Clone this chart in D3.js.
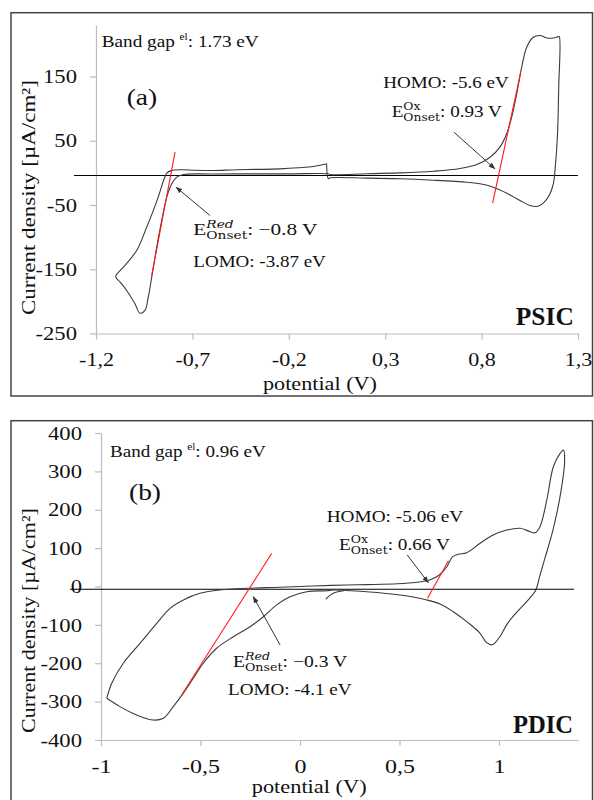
<!DOCTYPE html>
<html><head><meta charset="utf-8">
<script src="https://cdn.jsdelivr.net/npm/d3@7"></script>
<style>body{margin:0;background:#fff}svg{display:block}</style>
</head><body><svg id="c" width="594" height="800"></svg>
<script>
// ---------- DATA ----------
const psicV = [-0.004,-0.073,-0.15,-0.246,-0.33,-0.418,-0.5,-0.592,-0.68,-0.76,-0.81,-0.832,-0.845,-0.88,-0.937,-0.989,-1.058,-1.098,-1.075,-1.041,-0.998,-0.972,-0.946,-0.929,-0.911,-0.885,-0.859,-0.833,-0.807,-0.781,-0.747,-0.6,-0.4,-0.2,0.005,0.014,0.204,0.377,0.55,0.688,0.775,0.844,0.895,0.93,0.956,0.982,1.008,1.034,1.068,1.103,1.138,1.172,1.198,1.203,1.2,1.193,1.182,1.172,1.151,1.12,1.086,1.051,0.999,0.93,0.861,0.792,0.723,0.55,0.377,0.204,0.014,0.005,-0.004];
const psicI = [14.1,10,8,6.3,5.5,5.3,4.5,3.7,4,4.8,3.5,0,-8,-40,-84.5,-120.8,-146.8,-161.3,-170,-183,-203.8,-218.4,-214,-193.5,-162.4,-115.7,-74,-37.8,-17,-6.7,-2.5,-1.8,-1.5,-1.5,-1.4,-2.5,-1.4,0,2.6,6.8,13,24.4,40,60.8,86.7,123,164.5,195.6,211,213.8,210,210,212,212,133,55.5,8.8,-17,-35,-47,-52.3,-50.8,-43,-31.6,-22.3,-17,-14.5,-11.4,-9.2,-8.2,-7.7,-9,14.1];
const pdicV = [-0.971,-0.946,-0.888,-0.804,-0.72,-0.653,-0.586,-0.503,-0.402,-0.268,-0.1,0.0,0.067,0.235,0.338,0.49,0.586,0.652,0.7,0.738,0.766,0.795,0.838,0.905,0.971,1.039,1.106,1.156,1.181,1.206,1.24,1.273,1.307,1.324,1.33,1.312,1.271,1.233,1.204,1.185,1.147,1.1,1.043,1.004,0.966,0.935,0.905,0.838,0.77,0.704,0.637,0.503,0.335,0.167,0.134,0.034,-0.05,-0.117,-0.184,-0.251,-0.335,-0.419,-0.486,-0.536,-0.586,-0.637,-0.687,-0.737,-0.821,-0.905,-0.971];
const pdicI = [-291.4,-252,-200,-148,-96,-57,-35,-17.7,-9,-4.7,-2.1,0,1.3,4,5,7.2,11.1,17,30,51.6,77,84,88,112.6,134,147,151.7,142.8,140,156,225,312,347,355.7,330,250,147,77.6,25.5,-9,-35,-61,-96,-131,-152,-145,-122,-91.7,-65.7,-45.6,-35,-22,-13.5,-9,-11,-13.5,-26.6,-48,-78.7,-104.7,-131,-161,-200,-239,-278,-313,-343.5,-348,-334.8,-313,-291.4];
const pdicHookV = [0.13,0.145,0.165,0.19,0.22];
const pdicHookI = [-33,-25,-18,-13.5,-11];

const psicTangV = [[-0.911,-0.79],[0.857,1.003]];
const psicTangI = [[-159.7,32.2],[-47,156.7]];
const pdicTangV = [[-0.595,-0.142],[0.641,0.746]];
const pdicTangI = [[-282.8,86.5],[-30.8,67]];
const psicArrowV = [[-0.609,-0.785],[0.657,0.869]];
const psicArrowI = [[-66.3,-22.3],[63.3,6.3]];
const pdicArrowV = [[-0.1,-0.235],[0.539,0.645]];
const pdicArrowI = [[-152.5,-26.6],[82,10]];
const psicBase = -4.1, pdicBase = -7.3;

const psicXTicks = [-1.2,-0.7,-0.2,0.3,0.8,1.3];
const psicXLabels = ["-1,2","-0,7","-0,2","0,3","0,8","1,3"];
const psicYTicks = [-250,-150,-50,50,150];
const psicYLabels = ["-250","-150","-50","50","150"];
const pdicXTicks = [-1,-0.5,0,0.5,1];
const pdicXLabels = ["-1","-0,5","0","0,5","1"];
const pdicYTicks = [-400,-300,-200,-100,0,100,200,300,400];
const pdicYLabels = ["-400","-300","-200","-100","0","100","200","300","400"];

const psicText = {gap:"1.73", panel:"(a)", homo:"HOMO: -5.6 eV", ox:"0.93 V", red:"\u22120.8 V", lomo:"LOMO: -3.87 eV", name:"PSIC"};
const pdicText = {gap:"0.96", panel:"(b)", homo:"HOMO: -5.06 eV", ox:"0.66 V", red:"\u22120.3 V", lomo:"LOMO: -4.1 eV", name:"PDIC"};

// ---------- DRAW ----------
const svg = d3.select('#c');
const SERIF = "'Liberation Serif','Times New Roman',serif";
const MATH = "'DejaVu Serif','Liberation Serif',serif";
const CURVE = '#3a3a3a', AXIS = '#bdbdbd';

svg.append('defs').append('marker').attr('id','ah').attr('viewBox','0 0 10 10')
  .attr('refX',9).attr('refY',5).attr('markerWidth',7).attr('markerHeight',7)
  .attr('orient','auto-start-reverse').attr('markerUnits','userSpaceOnUse')
  .append('path').attr('d','M0,1.5 L10,5 L0,8.5 z').attr('fill','#333');

function fit(g, x, y, width, build, opts={}) {
  const t = g.append('text').attr('font-family', SERIF).attr('font-size', opts.size||17)
    .attr('fill', '#111').attr('font-weight', opts.bold?'bold':null);
  build(t);
  const w = t.node().getBBox().width;
  const s = width / w;
  if (opts.rotate) t.attr('transform', `translate(${x},${y}) rotate(-90) scale(${s},1)`);
  else t.attr('transform', `translate(${x},${y}) scale(${s},1)`);
  return t;
}
function plain(str){ return t => t.text(str); }
function gapText(val){ return t => {
  t.append('tspan').text('Band gap ');
  t.append('tspan').attr('font-size',10).attr('dy',-7).text('el');
  t.append('tspan').attr('dy',7).text(': ' + val + ' eV');
};}
function eText(sup, italic, val){ return t => {
  const e = t.append('tspan').text('E');
  const eW = e.node().getComputedTextLength();
  const sp = t.append('tspan').attr('x',eW).attr('dy',-7).attr('font-size',11).attr('font-family',MATH)
    .attr('font-style', italic?'italic':null).text(sup);
  const supW = sp.node().getComputedTextLength();
  const sb = t.append('tspan').attr('x',eW).attr('dy',11).attr('font-size',11).attr('font-family',MATH).text('Onset');
  const subW = sb.node().getComputedTextLength();
  t.append('tspan').attr('x', eW + Math.max(supW, subW)).attr('dy',-4).text(': ' + val);
};}

function panel(cfg) {
  const g = svg.append('g');
  g.append('rect').attr('x',cfg.frame[0]).attr('y',cfg.frame[1]).attr('width',cfg.frame[2]).attr('height',cfg.frame[3])
    .attr('fill','none').attr('stroke','#444').attr('stroke-width',1.5);
  const x = d3.scaleLinear().domain(cfg.xd).range(cfg.xr);
  const y = d3.scaleLinear().domain(cfg.yd).range(cfg.yr);

  const ax = g.append('g').attr('transform',`translate(0,${cfg.yr[0]})`)
    .call(d3.axisBottom(x).tickValues(cfg.xt).tickFormat((d,i)=>cfg.xl[i]).tickSize(6).tickSizeOuter(0));
  const ay = g.append('g').attr('transform',`translate(${cfg.xr[0]},0)`)
    .call(d3.axisLeft(y).tickValues(cfg.yt).tickFormat((d,i)=>cfg.yl[i]).tickSize(6).tickSizeOuter(0));
  [ax,ay].forEach(a => { a.selectAll('path,line').attr('stroke',AXIS).attr('stroke-width',1.2);
    a.selectAll('text').attr('font-family',SERIF).attr('font-size',18).attr('fill','#111'); });
  const xs = cfg.xRefW / ax.selectAll('text').nodes()[0].getComputedTextLength();
  const ys = cfg.yRefW / ay.selectAll('text').nodes()[cfg.yRefIdx].getComputedTextLength();
  ax.selectAll('text').attr('y',0).attr('dy',null).attr('transform',`translate(0,32.7) scale(${xs},1)`);
  ay.selectAll('text').attr('x',-19/ys).attr('dy','0.34em').attr('transform',`scale(${ys},1)`);

  g.append('line').attr('x1',x(cfg.baseX[0])).attr('x2',x(cfg.baseX[1]))
    .attr('y1',y(cfg.base)).attr('y2',y(cfg.base)).attr('stroke','#000').attr('stroke-width',1.1);

  const line = d3.line().x(d=>x(d[0])).y(d=>y(d[1])).curve(d3.curveCatmullRom.alpha(0.5));
  g.append('path').attr('d', line(d3.zip(cfg.V, cfg.I))).attr('fill','none').attr('stroke',CURVE).attr('stroke-width',1.1);
  if (cfg.hookV) g.append('path').attr('d', line(d3.zip(cfg.hookV, cfg.hookI))).attr('fill','none').attr('stroke',CURVE).attr('stroke-width',1.1);

  cfg.tV.forEach((tv,i)=> g.append('line').attr('x1',x(tv[0])).attr('x2',x(tv[1]))
     .attr('y1',y(cfg.tI[i][0])).attr('y2',y(cfg.tI[i][1])).attr('stroke','#ff1a1a').attr('stroke-width',1.1));
  cfg.aV.forEach((av,i)=> g.append('line').attr('x1',x(av[0])).attr('x2',x(av[1]))
     .attr('y1',y(cfg.aI[i][0])).attr('y2',y(cfg.aI[i][1])).attr('stroke','#333').attr('stroke-width',1)
     .attr('marker-end','url(#ah)'));

  const T = cfg.text, P = cfg.tp;
  fit(g, P.gap[0], P.gap[1], P.gap[2], gapText(T.gap), {size:17});
  fit(g, P.panel[0], P.panel[1], P.panel[2], plain(T.panel), {size:24});
  fit(g, P.homo[0], P.homo[1], P.homo[2], plain(T.homo), {size:17.5});
  fit(g, P.ox[0], P.ox[1], P.ox[2], eText('Ox', false, T.ox), {size:17});
  fit(g, P.red[0], P.red[1], P.red[2], eText('Red', true, T.red), {size:17});
  fit(g, P.lomo[0], P.lomo[1], P.lomo[2], plain(T.lomo), {size:17.5});
  fit(g, P.name[0], P.name[1], P.name[2], plain(T.name), {size:25, bold:true});
  fit(g, P.xt[0], P.xt[1], P.xt[2], plain('potential  (V)'), {size:19});
  fit(g, P.yt[0], P.yt[1], P.yt[2], plain('Current density  [\u00b5A/cm\u00b2]'), {size:19, rotate:true});
}

panel({
  frame:[11,12.7,581.5,383.3],
  xd:[-1.2,1.3], xr:[96,578], yd:[-250,230], yr:[333.5, 333.5-480*0.6425],
  xt:psicXTicks, xl:psicXLabels, yt:psicYTicks, yl:psicYLabels, xRefW:35, yRefW:34, yRefIdx:4,
  base:psicBase, baseX:[-1.314,1.3],
  V:psicV, I:psicI, tV:psicTangV, tI:psicTangI, aV:psicArrowV, aI:psicArrowI,
  text:psicText,
  tp:{gap:[101.7,46.7,158], panel:[126.7,105,30.6], homo:[383.3,88.3,126], ox:[391.7,116.7,111],
      red:[193.3,235,125], lomo:[193.3,266.7,133], name:[515.8,325,58], xt:[263,390,114], yt:[35,315,235]}
});
panel({
  frame:[11,420.7,581.5,400],
  xd:[-1,1.4], xr:[101,578.6], yd:[-400,400], yr:[740,433],
  xt:pdicXTicks, xl:pdicXLabels, yt:pdicYTicks, yl:pdicYLabels, xRefW:20, yRefW:34, yRefIdx:8,
  base:pdicBase, baseX:[-1.156,1.377],
  V:pdicV, I:pdicI, hookV:pdicHookV, hookI:pdicHookI,
  tV:pdicTangV, tI:pdicTangI, aV:pdicArrowV, aI:pdicArrowI,
  text:pdicText,
  tp:{gap:[110,456.7,156.7], panel:[129,500,32], homo:[326.7,521.7,137], ox:[339,550,111.7],
      red:[233,666.7,115], lomo:[228,695,124], name:[513,733.3,60], xt:[251.7,793,115], yt:[35,733,225]}
});
</script></body></html>
